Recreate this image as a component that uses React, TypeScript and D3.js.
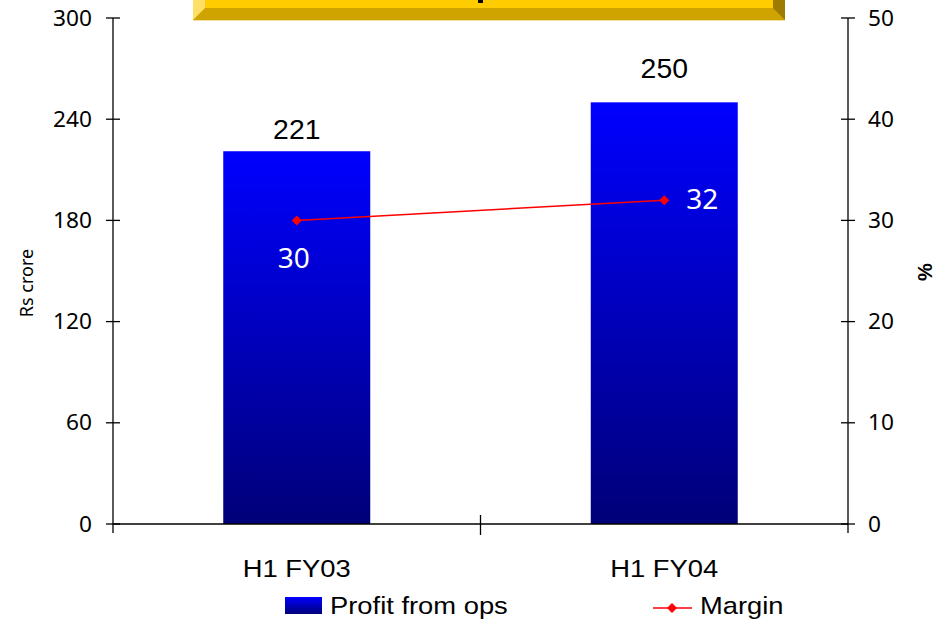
import React from 'react';
import * as d3 from 'd3';

const categories = ['H1 FY03', 'H1 FY04'];
const profitValues = [221, 250];
const marginValues = [30, 32];
const leftTicks = [0, 60, 120, 180, 240, 300];
const rightTicks = [0, 10, 20, 30, 40, 50];

const W = 941;
const H = 621;
const left = 113;
const right = 848;
const top = 18;
const bottom = 524;

const sans = '"Liberation Sans", Arial, sans-serif';
const tickFont = '"Noto Sans", "Open Sans", sans-serif';

// the original picture is slightly stretched sideways, so text is too
const STRETCH = 1.14;

type STextProps = {
  x: number;
  y: number;
  size: number;
  anchor?: 'start' | 'middle' | 'end';
  font?: string;
  fill?: string;
  sx?: number;
  children: React.ReactNode;
};

const SText = ({ x, y, size, anchor = 'start', font = sans, fill = '#000', sx = STRETCH, children }: STextProps) => (
  <text
    transform={`translate(${x},${y}) scale(${sx},1)`}
    textAnchor={anchor}
    fontFamily={font}
    fontSize={size}
    fill={fill}
  >
    {children}
  </text>
);

const App: React.FC = () => {
  const x = d3.scalePoint<string>().domain(categories).range([left, right]).padding(0.5);
  const step = x.step();
  const barW = step * 0.4;
  const y = d3.scaleLinear().domain([0, 300]).range([bottom, top]);
  const yR = d3.scaleLinear().domain([0, 50]).range([bottom, top]);

  const line = d3
    .line<number>()
    .x((_, i) => x(categories[i]) as number)
    .y((d) => yR(d));

  const diamond = (cx: number, cy: number, r: number) =>
    `M${cx},${cy - r}L${cx + r},${cy}L${cx},${cy + r}L${cx - r},${cy}Z`;

  return (
    <svg
      width={W}
      height={H}
      style={{ position: 'absolute', left: 0, top: 0, background: '#fff' }}
    >
      <defs>
        <linearGradient id="barGrad" x1="0" y1="0" x2="0" y2="1">
          <stop offset="0" stopColor="#0000FF" />
          <stop offset="1" stopColor="#000078" />
        </linearGradient>
      </defs>

      {/* title banner, cut off at the top */}
      <g>
        <rect x={193} y={0} width={592} height={20} fill="#D0A400" />
        <rect x={205} y={0} width={568} height={8} fill="#FFCC00" />
        <polygon points="193,0 205,0 205,8 193,20" fill="#FFE066" />
        <polygon points="773,0 785,0 785,20 773,8" fill="#9C7B00" />
        <line x1={193} x2={785} y1={20.5} y2={20.5} stroke="#F0E0A0" />
        <rect x={478} y={0} width={5} height={3} fill="#000" />
      </g>

      {/* bars */}
      {profitValues.map((v, i) => {
        const cx = x(categories[i]) as number;
        return (
          <g key={categories[i]}>
            <rect
              x={cx - barW / 2}
              y={y(v)}
              width={barW}
              height={bottom - y(v)}
              fill="url(#barGrad)"
            />
            <SText x={cx} y={y(v) - (i === 0 ? 12 : 24)} size={27} anchor="middle" sx={1.05}>
              {v}
            </SText>
          </g>
        );
      })}

      {/* axes */}
      <g stroke="#000" strokeWidth={1.3} fill="none">
        <line x1={left} x2={right} y1={bottom} y2={bottom} />
        <line x1={left} x2={left} y1={top} y2={bottom + 9} />
        <line x1={right} x2={right} y1={top} y2={bottom + 9} />
        {leftTicks.map((t) => (
          <line key={'l' + t} x1={left - 7} x2={left + 7} y1={y(t)} y2={y(t)} />
        ))}
        {rightTicks.map((t) => (
          <line key={'r' + t} x1={right - 7} x2={right + 7} y1={yR(t)} y2={yR(t)} />
        ))}
        <line
          x1={(left + right) / 2}
          x2={(left + right) / 2}
          y1={bottom - 9}
          y2={bottom + 11}
        />
      </g>

      {leftTicks.map((t) => (
        <SText key={'lt' + t} x={left - 21} y={y(t) + 7.5} size={21} anchor="end" font={tickFont} sx={1.08}>
          {t}
        </SText>
      ))}
      {rightTicks.map((t) => (
        <SText key={'rt' + t} x={right + 20} y={yR(t) + 7.5} size={21} font={tickFont} sx={1.08}>
          {t}
        </SText>
      ))}

      <text
        transform="translate(33,283) rotate(-90)"
        textAnchor="middle"
        fontFamily={tickFont}
        fontSize={18}
      >
        Rs crore
      </text>
      <text
        transform="translate(932,272) rotate(-90)"
        textAnchor="middle"
        fontFamily={sans}
        fontSize={20}
        fontWeight="bold"
      >
        %
      </text>

      {categories.map((c) => (
        <SText key={c} x={x(c) as number} y={577} size={24} anchor="middle">
          {c}
        </SText>
      ))}

      {/* margin line */}
      <path d={line(marginValues) || ''} stroke="#FF0000" strokeWidth={1.5} fill="none" />
      {marginValues.map((v, i) => (
        <path
          key={'m' + i}
          d={diamond(x(categories[i]) as number, yR(v), 5)}
          fill="#FF0000"
        />
      ))}
      <SText
        x={(x(categories[0]) as number) - 3}
        y={yR(marginValues[0]) + 48}
        size={28}
        anchor="middle"
        font={tickFont}
        fill="#fff"
        sx={1}
      >
        {marginValues[0]}
      </SText>
      <SText
        x={(x(categories[1]) as number) + 22}
        y={yR(marginValues[1]) + 9}
        size={28}
        font={tickFont}
        fill="#fff"
        sx={1}
      >
        {marginValues[1]}
      </SText>

      {/* legend */}
      <rect x={285} y={597} width={37} height={17} fill="url(#barGrad)" />
      <SText x={330} y={614} size={24}>
        Profit from ops
      </SText>
      <line x1={653} x2={692} y1={608} y2={608} stroke="#FF0000" strokeWidth={1.5} />
      <path d={diamond(672, 608, 5)} fill="#FF0000" />
      <SText x={700} y={614} size={24}>
        Margin
      </SText>
    </svg>
  );
};

export default App;
